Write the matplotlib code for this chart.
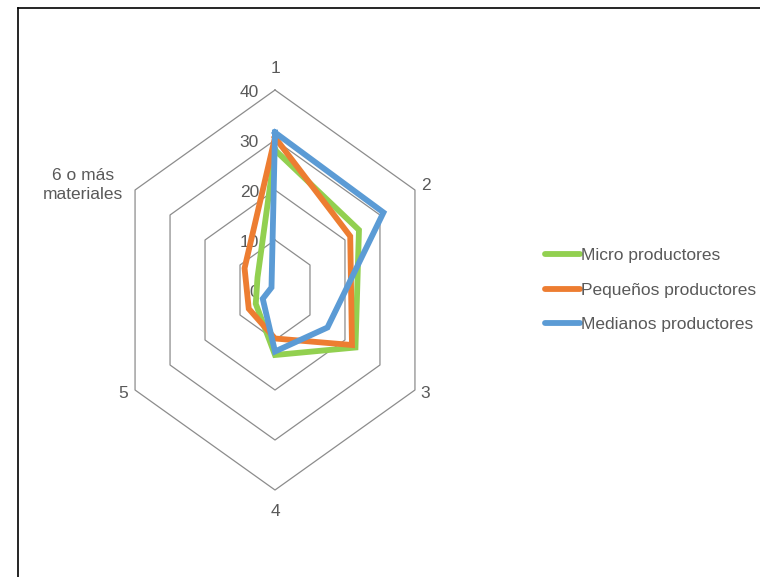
import numpy as np
import matplotlib
matplotlib.use("Agg")
import matplotlib.pyplot as plt
from matplotlib.lines import Line2D

categories = ["1", "2", "3", "4", "5", "6 o más\nmateriales"]
series_names = ["Micro productores", "Pequeños productores", "Medianos productores"]
micro = [28, 24, 23, 13, 5.5, 5]
pequenos = [30.5, 21.5, 22, 9.7, 7.5, 8.7]
medianos = [31.5, 31, 15, 12.3, 3.5, 1]
ticks = [0, 10, 20, 30, 40]

colors = ["#92D050", "#ED7D31", "#5B9BD5"]
text_color = "#595959"
grid_color = "#8C8C8C"

plt.rcParams['font.family'] = ['Liberation Sans', 'DejaVu Sans']

W, H = 760, 577
fig = plt.figure(figsize=(W / 100, H / 100), dpi=100)

# radar area: centre at pixel (275, 290); 5 px per unit vertically, ~4.04 px horizontally
cx, cy = 275, 290
sx, sy = 4.04, 5.0
left_px, right_px = 75, 475
top_px, bot_px = 60, 520
ax = fig.add_axes([left_px / W, 1 - bot_px / H, (right_px - left_px) / W, (bot_px - top_px) / H])
ax.set_xlim((left_px - cx) / sx, (right_px - cx) / sx)
ax.set_ylim(-(bot_px - cy) / sy, (cy - top_px) / sy)
ax.set_aspect('auto')
ax.axis('off')

n = len(categories)
theta = np.arange(n) * 2 * np.pi / n


def to_xy(vals):
    v = np.asarray(vals, dtype=float)
    x = v * np.sin(theta)
    y = v * np.cos(theta)
    return np.append(x, x[0]), np.append(y, y[0])


# hexagonal grid
rmax = max(ticks)
for t in ticks[1:]:
    gx, gy = to_xy([t] * n)
    ax.plot(gx, gy, color=grid_color, lw=0.9, zorder=1)

# tick labels
for t in ticks:
    ax.annotate(str(t), (0, t), xytext=(-16, -3), textcoords='offset pixels',
                ha='right', va='center', fontsize=12.5, color=text_color)

# category labels
offsets = [(0, 21, 'center', 'center'), (6, 4, 'left', 'center'), (5, -4, 'left', 'center'),
           (0, -22, 'center', 'center'), (-7, -4, 'right', 'center'), (-12, 5, 'right', 'center')]
for k, lab in enumerate(categories):
    dx, dy, ha, va = offsets[k]
    ax.annotate(lab, (rmax * np.sin(theta[k]), rmax * np.cos(theta[k])), xytext=(dx, dy),
                textcoords='offset pixels', ha=ha, va=va, fontsize=12.5, color=text_color,
                multialignment='center', linespacing=1.35)

# series
for vals, col, name in zip([micro, pequenos, medianos], colors, series_names):
    px, py = to_xy(vals)
    ax.plot(px, py, color=col, lw=4.2, solid_joinstyle='miter', zorder=3, label=name)

handles = [Line2D([0], [0], color=c, lw=4.2, solid_capstyle='round') for c in colors]
fig.legend(handles, series_names, loc='center left', bbox_to_anchor=(545 / W, 1 - 290 / H),
           bbox_transform=fig.transFigure, frameon=False, fontsize=12.5, labelcolor=text_color,
           handlelength=2.0, handletextpad=0.05, labelspacing=1.1, borderpad=0, borderaxespad=0)

# outer border (left and top edges visible)
fig.add_artist(Line2D([18 / W, 18 / W], [0, 1 - 8 / H], color='black', lw=1.2, transform=fig.transFigure))
fig.add_artist(Line2D([18 / W, 1], [1 - 8 / H, 1 - 8 / H], color='black', lw=1.2, transform=fig.transFigure))

fig.savefig("out.png", dpi=100, facecolor='white')
